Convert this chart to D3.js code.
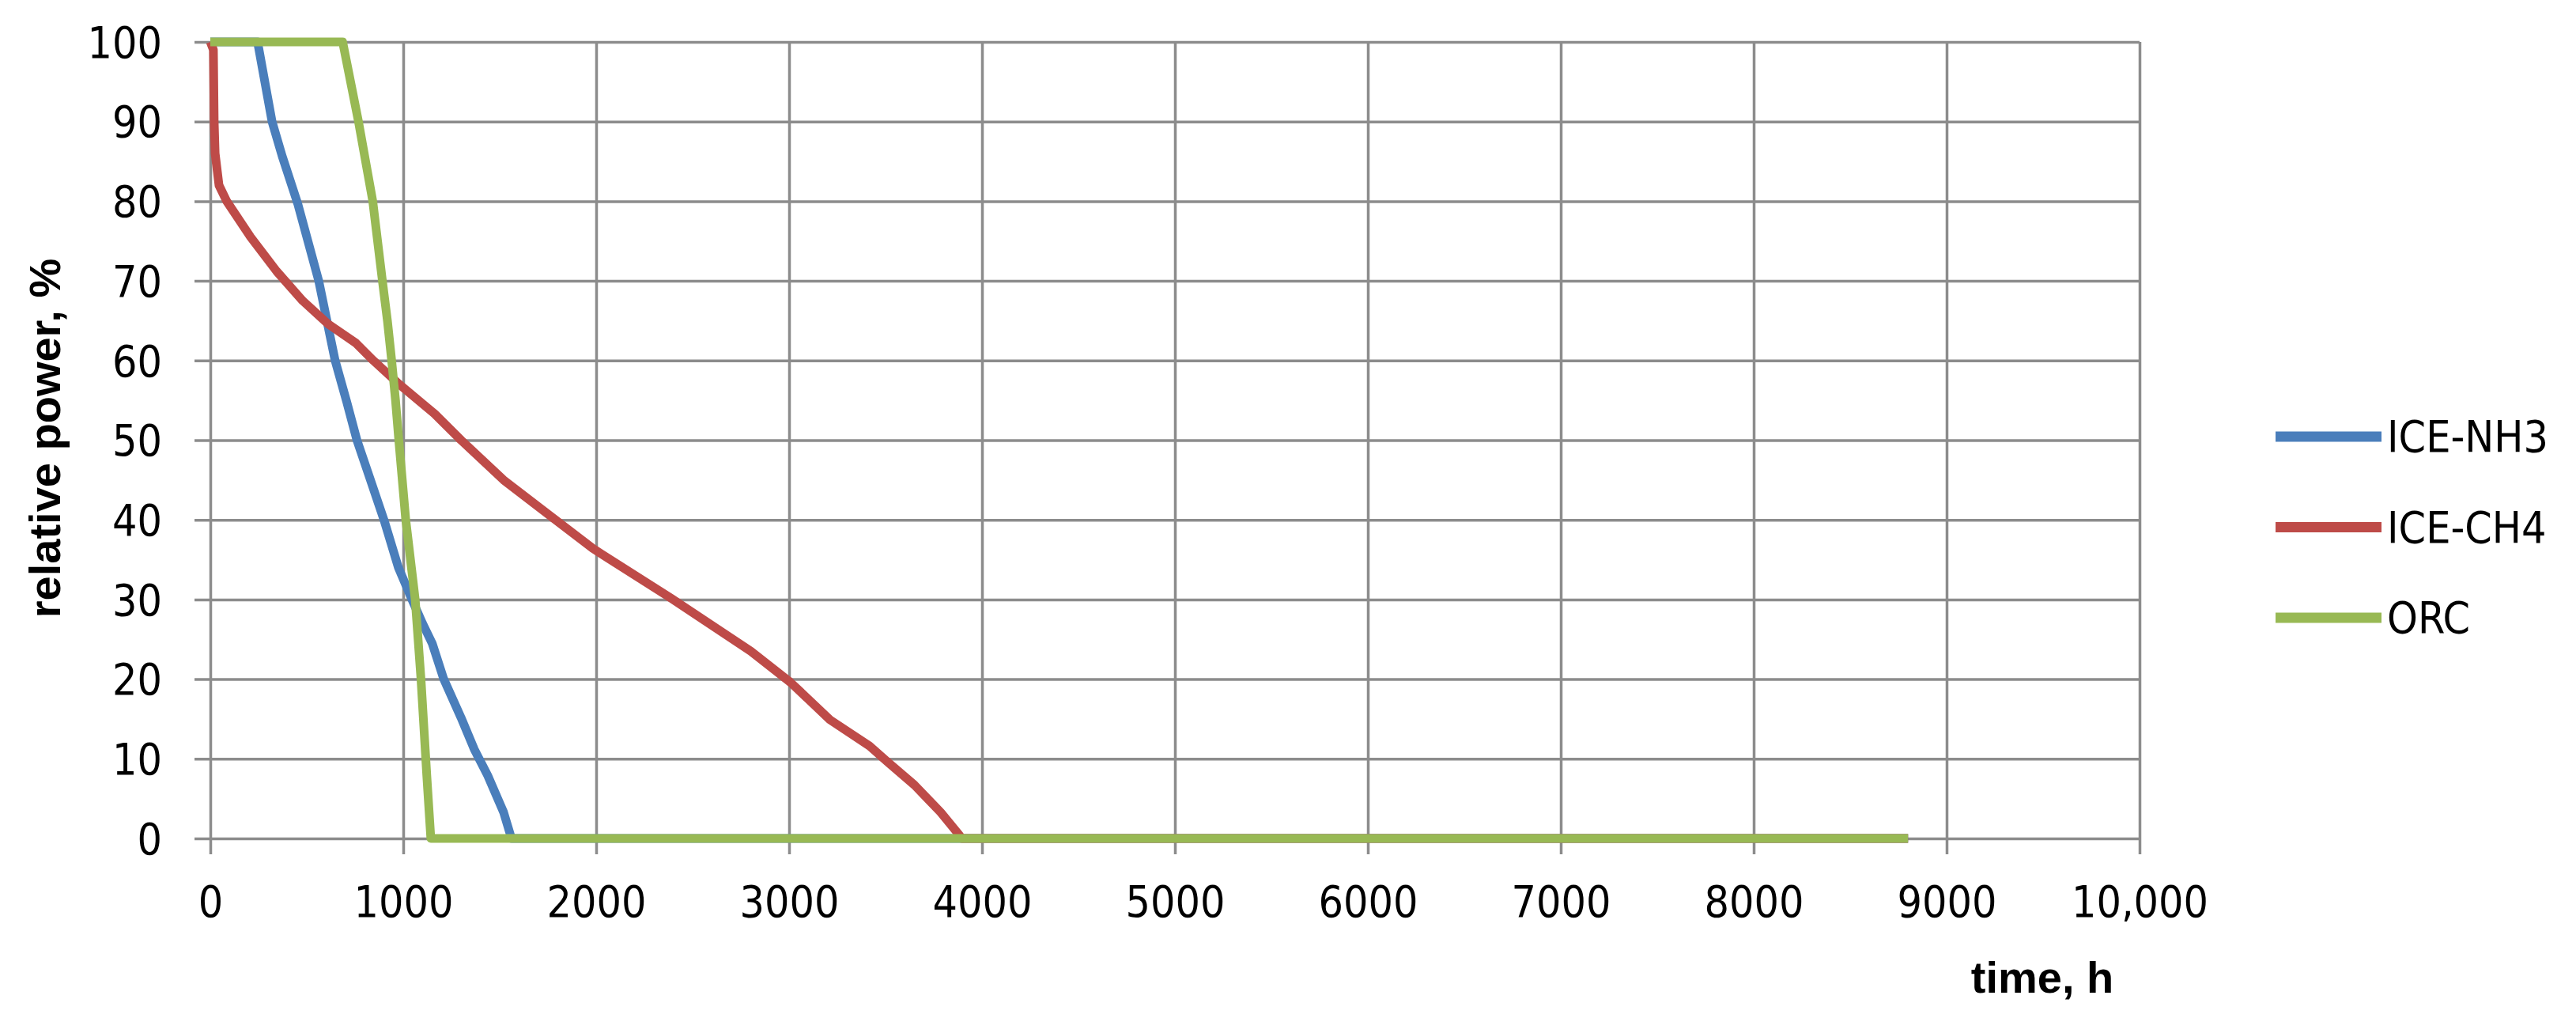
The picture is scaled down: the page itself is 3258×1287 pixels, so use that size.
<!DOCTYPE html>
<html>
<head>
<meta charset="utf-8">
<script src="https://d3js.org/d3.v7.min.js"></script>
<style>
  html, body { margin: 0; padding: 0; background: #fff; }
  .tick-label { font-family: "DejaVu Sans Condensed", "DejaVu Sans", sans-serif; font-stretch: condensed; fill: #000; }
  .title { font-family: "Liberation Sans", Arial, sans-serif; font-weight: bold; fill: #000; }
</style>
</head>
<body>
<div id="chart"></div>
<script>
// values (time in h, relative power in %)
const seriesNames = ["ICE-NH3", "ICE-CH4", "ORC"];

const iceNH3 = [
  [0, 100], [245, 100], [320, 90], [372, 85.7], [453, 79.7], [562, 70], [647, 60],
  [705, 55], [760, 50], [830, 45], [900, 40], [975, 34], [1045, 30], [1100, 27],
  [1150, 24.5], [1210, 20], [1299, 15.2], [1368, 11.2], [1438, 7.9], [1520, 3.3],
  [1561, 0], [8800, 0]
];

const iceCH4 = [
  [0, 100], [16, 99], [20, 90], [25, 86], [45, 82], [85, 80], [209, 75.5], [344, 71.2],
  [479, 67.5], [610, 64.6], [754, 62.2], [845, 60], [980, 57], [1163, 53.3],
  [1300, 50], [1520, 45], [1735, 41], [1983, 36.4], [2392, 30.1], [2802, 23.5],
  [3007, 19.6], [3212, 14.9], [3417, 11.6], [3511, 9.6], [3650, 6.7], [3785, 3.3],
  [3880, 0.5], [3895, 0], [8800, 0]
];

const orc = [
  [0, 100], [686, 100], [768, 90], [842, 80], [892, 70], [918, 65], [940, 60],
  [960, 55], [977, 50], [1013, 40], [1062, 30], [1092, 20], [1122, 7.9], [1143, 0],
  [8800, 0]
];

const seriesColors = ["#4a7ebb", "#be4b48", "#98b954"];

const xTicks = [0, 1000, 2000, 3000, 4000, 5000, 6000, 7000, 8000, 9000, 10000];
const xTickLabels = ["0", "1000", "2000", "3000", "4000", "5000", "6000", "7000", "8000", "9000", "10,000"];
const yTicks = [0, 10, 20, 30, 40, 50, 60, 70, 80, 90, 100];

const xTitle = "time, h";
const yTitle = "relative power, %";

const W = 3258, H = 1287;
const margins = { l: 266, t: 53, r: W - 2706, b: H - 1060 };
const chartWidth = W - margins.l - margins.r,
      chartHeight = H - margins.t - margins.b;

const svg = d3.select("#chart").append("svg")
  .attr("width", W).attr("height", H);

const g = svg.append("g")
  .attr("transform", `translate(${margins.l},${margins.t})`);

const x = d3.scaleLinear().domain([0, 10000]).range([0, chartWidth]);
const y = d3.scaleLinear().domain([0, 100]).range([chartHeight, 0]);

const gridColor = "#8c8c8c";

// vertical gridlines, running a little below the axis like tick marks
g.append("g")
  .attr("transform", `translate(0,${chartHeight + 20})`)
  .call(d3.axisBottom(x).tickValues(xTicks).tickSize(-(chartHeight + 20)).tickFormat(""))
  .call(a => a.select(".domain").remove())
  .selectAll(".tick line")
  .attr("stroke", gridColor).attr("stroke-width", 3.5);

// horizontal gridlines, reaching a little left of the plot
g.append("g")
  .attr("transform", `translate(-20,0)`)
  .call(d3.axisLeft(y).tickValues(yTicks).tickSize(-(chartWidth + 20)).tickFormat(""))
  .call(a => a.select(".domain").remove())
  .selectAll(".tick line")
  .attr("stroke", gridColor).attr("stroke-width", 3.5);

// x tick labels
g.append("g")
  .attr("transform", `translate(0,${chartHeight})`)
  .call(d3.axisBottom(x).tickValues(xTicks).tickSize(0).tickPadding(0)
    .tickFormat((d, i) => xTickLabels[i]))
  .call(a => a.select(".domain").remove())
  .selectAll("text")
  .attr("class", "tick-label")
  .attr("font-size", 55)
  .attr("dy", null)
  .attr("y", 99);

// y tick labels
g.append("g")
  .call(d3.axisLeft(y).tickValues(yTicks).tickSize(0).tickPadding(61))
  .call(a => a.select(".domain").remove())
  .selectAll("text")
  .attr("class", "tick-label")
  .attr("font-size", 55)
  .attr("dy", "0.35em");

// lines
const line = d3.line()
  .x(d => x(d[0]))
  .y(d => y(d[1]));

[iceNH3, iceCH4, orc].forEach((data, i) => {
  g.append("path")
    .datum(data)
    .attr("fill", "none")
    .attr("stroke", seriesColors[i])
    .attr("stroke-width", 11)
    .attr("stroke-linejoin", "round")
    .attr("d", line);
});

// axis titles
svg.append("text")
  .attr("class", "title")
  .attr("x", 2583).attr("y", 1255)
  .attr("text-anchor", "middle")
  .attr("font-size", 56)
  .text(xTitle);

svg.append("text")
  .attr("class", "title")
  .attr("transform", "translate(76,554) rotate(-90)")
  .attr("text-anchor", "middle")
  .attr("font-size", 56)
  .text(yTitle);

// legend
const legend = svg.append("g").attr("transform", "translate(2878,552)");
seriesNames.forEach((name, i) => {
  const row = legend.append("g").attr("transform", `translate(0,${i * 114.5})`);
  row.append("line")
    .attr("x1", 0).attr("x2", 134)
    .attr("stroke", seriesColors[i]).attr("stroke-width", 13);
  row.append("text")
    .attr("class", "tick-label")
    .attr("x", 141).attr("dy", "0.35em")
    .attr("font-size", 55)
    .text(name);
});
</script>
</body>
</html>
